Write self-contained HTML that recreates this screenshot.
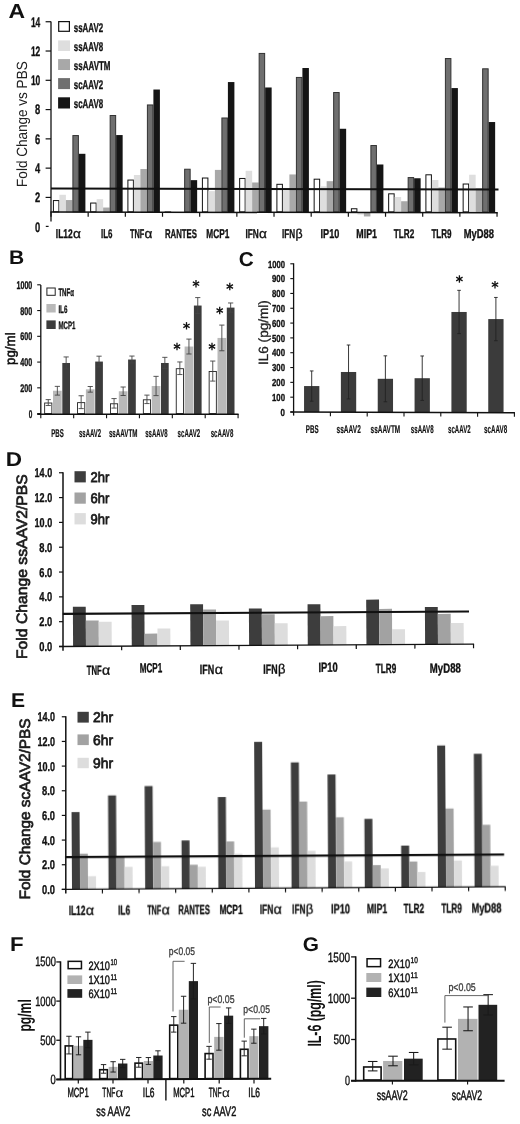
<!DOCTYPE html>
<html><head><meta charset="utf-8"><title>Figure</title>
<style>
html,body{margin:0;padding:0;background:#fff;}
body{width:520px;height:1124px;overflow:hidden;font-family:"Liberation Sans",sans-serif;}
svg{display:block;font-family:"Liberation Sans",sans-serif;text-rendering:geometricPrecision;}
</style></head><body>
<svg width="520" height="1124" viewBox="0 0 520 1124">
<defs><filter id="soft" x="0" y="0" width="100%" height="100%" color-interpolation-filters="sRGB"><feGaussianBlur stdDeviation="0.22"/></filter></defs>
<rect x="0" y="0" width="520" height="1124" fill="#ffffff"/>
<g filter="url(#soft)">
<text x="8.50" y="17.60" font-size="20.2" font-weight="bold" text-anchor="start" fill="#111" textLength="16.60" lengthAdjust="spacingAndGlyphs">A</text>
<line x1="51.00" y1="21.54" x2="51.00" y2="221.50" stroke="#111" stroke-width="1.3"/>
<line x1="45.60" y1="197.42" x2="51.00" y2="197.42" stroke="#111" stroke-width="1.2"/>
<line x1="45.60" y1="168.14" x2="51.00" y2="168.14" stroke="#111" stroke-width="1.2"/>
<line x1="45.60" y1="138.86" x2="51.00" y2="138.86" stroke="#111" stroke-width="1.2"/>
<line x1="45.60" y1="109.58" x2="51.00" y2="109.58" stroke="#111" stroke-width="1.2"/>
<line x1="45.60" y1="80.30" x2="51.00" y2="80.30" stroke="#111" stroke-width="1.2"/>
<line x1="45.60" y1="51.02" x2="51.00" y2="51.02" stroke="#111" stroke-width="1.2"/>
<line x1="45.60" y1="21.74" x2="51.00" y2="21.74" stroke="#111" stroke-width="1.2"/>
<line x1="45.80" y1="226.40" x2="48.60" y2="226.40" stroke="#111" stroke-width="1.2"/>
<text x="35.10" y="231.60" font-size="13.8" font-weight="bold" text-anchor="start" fill="#111" textLength="5.20" lengthAdjust="spacingAndGlyphs" stroke="#111" stroke-width="0.35" stroke-linejoin="round">0</text>
<text x="35.10" y="202.32" font-size="13.8" font-weight="bold" text-anchor="start" fill="#111" textLength="5.20" lengthAdjust="spacingAndGlyphs" stroke="#111" stroke-width="0.35" stroke-linejoin="round">2</text>
<text x="35.10" y="173.04" font-size="13.8" font-weight="bold" text-anchor="start" fill="#111" textLength="5.20" lengthAdjust="spacingAndGlyphs" stroke="#111" stroke-width="0.35" stroke-linejoin="round">4</text>
<text x="35.10" y="143.76" font-size="13.8" font-weight="bold" text-anchor="start" fill="#111" textLength="5.20" lengthAdjust="spacingAndGlyphs" stroke="#111" stroke-width="0.35" stroke-linejoin="round">6</text>
<text x="35.10" y="114.48" font-size="13.8" font-weight="bold" text-anchor="start" fill="#111" textLength="5.20" lengthAdjust="spacingAndGlyphs" stroke="#111" stroke-width="0.35" stroke-linejoin="round">8</text>
<text x="30.90" y="85.20" font-size="13.8" font-weight="bold" text-anchor="start" fill="#111" textLength="9.40" lengthAdjust="spacingAndGlyphs" stroke="#111" stroke-width="0.35" stroke-linejoin="round">10</text>
<text x="30.90" y="55.92" font-size="13.8" font-weight="bold" text-anchor="start" fill="#111" textLength="9.40" lengthAdjust="spacingAndGlyphs" stroke="#111" stroke-width="0.35" stroke-linejoin="round">12</text>
<text x="30.90" y="26.64" font-size="13.8" font-weight="bold" text-anchor="start" fill="#111" textLength="9.40" lengthAdjust="spacingAndGlyphs" stroke="#111" stroke-width="0.35" stroke-linejoin="round">14</text>
<text x="0" y="0" font-size="14.8" font-weight="normal" fill="#222" textLength="125.60" lengthAdjust="spacingAndGlyphs" transform="translate(27.40 186.90) rotate(-90)">Fold Change vs PBS</text>
<rect x="53.40" y="200.56" width="5.50" height="11.30" fill="#ffffff" stroke="#111" stroke-width="1.0"/>
<rect x="59.40" y="194.79" width="6.50" height="17.57" fill="#dedede"/>
<rect x="65.90" y="200.06" width="6.50" height="12.30" fill="#a8a8a8"/>
<rect x="72.90" y="135.56" width="5.50" height="76.30" fill="#6f6f6f" stroke="#333" stroke-width="1.0"/>
<rect x="78.90" y="153.80" width="6.50" height="58.56" fill="#151515"/>
<rect x="90.65" y="203.05" width="5.50" height="8.81" fill="#ffffff" stroke="#111" stroke-width="1.0"/>
<rect x="96.65" y="199.18" width="6.50" height="13.18" fill="#dedede"/>
<rect x="103.15" y="207.53" width="6.50" height="4.83" fill="#a8a8a8"/>
<rect x="110.15" y="115.50" width="5.50" height="96.36" fill="#6f6f6f" stroke="#333" stroke-width="1.0"/>
<rect x="116.15" y="135.06" width="6.50" height="77.30" fill="#151515"/>
<rect x="127.90" y="180.07" width="5.50" height="31.79" fill="#ffffff" stroke="#111" stroke-width="1.0"/>
<rect x="133.90" y="175.03" width="6.50" height="37.33" fill="#dedede"/>
<rect x="140.40" y="169.03" width="6.50" height="43.33" fill="#a8a8a8"/>
<rect x="147.40" y="104.96" width="5.50" height="106.90" fill="#6f6f6f" stroke="#333" stroke-width="1.0"/>
<rect x="153.40" y="89.53" width="6.50" height="122.83" fill="#151515"/>
<rect x="165.15" y="211.98" width="5.50" height="0.10" fill="#ffffff" stroke="#111" stroke-width="1.0"/>
<rect x="171.15" y="212.07" width="6.50" height="0.29" fill="#dedede"/>
<rect x="177.65" y="212.36" width="6.50" height="0.44" fill="#a8a8a8"/>
<rect x="184.65" y="169.23" width="5.50" height="42.63" fill="#6f6f6f" stroke="#333" stroke-width="1.0"/>
<rect x="190.65" y="180.15" width="6.50" height="32.21" fill="#151515"/>
<rect x="202.40" y="178.02" width="5.50" height="33.84" fill="#ffffff" stroke="#111" stroke-width="1.0"/>
<rect x="208.40" y="191.13" width="6.50" height="21.23" fill="#dedede"/>
<rect x="214.90" y="169.90" width="6.50" height="42.46" fill="#a8a8a8"/>
<rect x="221.90" y="117.99" width="5.50" height="93.87" fill="#6f6f6f" stroke="#333" stroke-width="1.0"/>
<rect x="227.90" y="82.06" width="6.50" height="130.30" fill="#151515"/>
<rect x="239.65" y="178.46" width="5.50" height="33.40" fill="#ffffff" stroke="#111" stroke-width="1.0"/>
<rect x="245.65" y="170.78" width="6.50" height="41.58" fill="#dedede"/>
<rect x="252.15" y="182.49" width="6.50" height="29.87" fill="#a8a8a8"/>
<rect x="259.15" y="53.43" width="5.50" height="158.43" fill="#6f6f6f" stroke="#333" stroke-width="1.0"/>
<rect x="265.15" y="87.48" width="6.50" height="124.88" fill="#151515"/>
<rect x="276.90" y="184.31" width="5.50" height="27.55" fill="#ffffff" stroke="#111" stroke-width="1.0"/>
<rect x="282.90" y="190.40" width="6.50" height="21.96" fill="#dedede"/>
<rect x="289.40" y="174.44" width="6.50" height="37.92" fill="#a8a8a8"/>
<rect x="296.40" y="77.44" width="5.50" height="134.42" fill="#6f6f6f" stroke="#333" stroke-width="1.0"/>
<rect x="302.40" y="68.01" width="6.50" height="144.35" fill="#151515"/>
<rect x="314.15" y="179.19" width="5.50" height="32.67" fill="#ffffff" stroke="#111" stroke-width="1.0"/>
<rect x="320.15" y="186.30" width="6.50" height="26.06" fill="#dedede"/>
<rect x="326.65" y="181.18" width="6.50" height="31.18" fill="#a8a8a8"/>
<rect x="333.65" y="92.52" width="5.50" height="119.34" fill="#6f6f6f" stroke="#333" stroke-width="1.0"/>
<rect x="339.65" y="128.77" width="6.50" height="83.59" fill="#151515"/>
<rect x="351.40" y="208.76" width="5.50" height="3.10" fill="#ffffff" stroke="#111" stroke-width="1.0"/>
<rect x="357.40" y="212.36" width="6.50" height="2.20" fill="#dedede"/>
<rect x="363.90" y="212.36" width="6.50" height="4.10" fill="#a8a8a8"/>
<rect x="370.90" y="145.52" width="5.50" height="66.34" fill="#6f6f6f" stroke="#333" stroke-width="1.0"/>
<rect x="376.90" y="164.49" width="6.50" height="47.87" fill="#151515"/>
<rect x="388.65" y="193.83" width="5.50" height="18.03" fill="#ffffff" stroke="#111" stroke-width="1.0"/>
<rect x="394.65" y="196.99" width="6.50" height="15.37" fill="#dedede"/>
<rect x="401.15" y="201.23" width="6.50" height="11.13" fill="#a8a8a8"/>
<rect x="408.15" y="177.58" width="5.50" height="34.28" fill="#6f6f6f" stroke="#333" stroke-width="1.0"/>
<rect x="414.15" y="178.25" width="6.50" height="34.11" fill="#151515"/>
<rect x="425.90" y="174.80" width="5.50" height="37.06" fill="#ffffff" stroke="#111" stroke-width="1.0"/>
<rect x="431.90" y="180.01" width="6.50" height="32.35" fill="#dedede"/>
<rect x="438.40" y="187.47" width="6.50" height="24.89" fill="#a8a8a8"/>
<rect x="445.40" y="58.55" width="5.50" height="153.31" fill="#6f6f6f" stroke="#333" stroke-width="1.0"/>
<rect x="451.40" y="88.07" width="6.50" height="124.29" fill="#151515"/>
<rect x="463.15" y="184.02" width="5.50" height="27.84" fill="#ffffff" stroke="#111" stroke-width="1.0"/>
<rect x="469.15" y="174.74" width="6.50" height="37.62" fill="#dedede"/>
<rect x="475.65" y="188.20" width="6.50" height="24.16" fill="#a8a8a8"/>
<rect x="482.65" y="68.80" width="5.50" height="143.06" fill="#6f6f6f" stroke="#333" stroke-width="1.0"/>
<rect x="488.65" y="122.03" width="6.50" height="90.33" fill="#151515"/>
<line x1="50.40" y1="211.96" x2="497.64" y2="212.86" stroke="#111" stroke-width="1.5"/>
<line x1="51.00" y1="212.36" x2="51.00" y2="216.76" stroke="#111" stroke-width="1.2"/>
<line x1="88.17" y1="212.36" x2="88.17" y2="216.76" stroke="#111" stroke-width="1.2"/>
<line x1="125.34" y1="212.36" x2="125.34" y2="216.76" stroke="#111" stroke-width="1.2"/>
<line x1="162.51" y1="212.36" x2="162.51" y2="216.76" stroke="#111" stroke-width="1.2"/>
<line x1="199.68" y1="212.36" x2="199.68" y2="216.76" stroke="#111" stroke-width="1.2"/>
<line x1="236.85" y1="212.36" x2="236.85" y2="216.76" stroke="#111" stroke-width="1.2"/>
<line x1="274.02" y1="212.36" x2="274.02" y2="216.76" stroke="#111" stroke-width="1.2"/>
<line x1="311.19" y1="212.36" x2="311.19" y2="216.76" stroke="#111" stroke-width="1.2"/>
<line x1="348.36" y1="212.36" x2="348.36" y2="216.76" stroke="#111" stroke-width="1.2"/>
<line x1="385.53" y1="212.36" x2="385.53" y2="216.76" stroke="#111" stroke-width="1.2"/>
<line x1="422.70" y1="212.36" x2="422.70" y2="216.76" stroke="#111" stroke-width="1.2"/>
<line x1="459.87" y1="212.36" x2="459.87" y2="216.76" stroke="#111" stroke-width="1.2"/>
<line x1="497.04" y1="212.36" x2="497.04" y2="216.76" stroke="#111" stroke-width="1.2"/>
<line x1="51.00" y1="188.50" x2="498.50" y2="189.50" stroke="#111" stroke-width="2.1"/>
<text x="55.80" y="237.90" font-size="12.7" font-weight="bold" text-anchor="start" fill="#111" textLength="16.83" lengthAdjust="spacingAndGlyphs" stroke="#111" stroke-width="0.35" stroke-linejoin="round">IL12</text>
<text x="72.93" y="237.90" font-size="12.953999999999999" font-weight="normal" text-anchor="start" fill="#111" textLength="7.87" lengthAdjust="spacingAndGlyphs" stroke="#111" stroke-width="0.35" stroke-linejoin="round">α</text>
<text x="101.00" y="237.90" font-size="12.7" font-weight="bold" text-anchor="start" fill="#111" textLength="11.50" lengthAdjust="spacingAndGlyphs" stroke="#111" stroke-width="0.35" stroke-linejoin="round">IL6</text>
<text x="130.00" y="237.90" font-size="12.7" font-weight="bold" text-anchor="start" fill="#111" textLength="14.33" lengthAdjust="spacingAndGlyphs" stroke="#111" stroke-width="0.35" stroke-linejoin="round">TNF</text>
<text x="144.63" y="237.90" font-size="12.953999999999999" font-weight="normal" text-anchor="start" fill="#111" textLength="7.87" lengthAdjust="spacingAndGlyphs" stroke="#111" stroke-width="0.35" stroke-linejoin="round">α</text>
<text x="165.00" y="237.90" font-size="12.7" font-weight="bold" text-anchor="start" fill="#111" textLength="32.00" lengthAdjust="spacingAndGlyphs" stroke="#111" stroke-width="0.35" stroke-linejoin="round">RANTES</text>
<text x="206.30" y="237.90" font-size="12.7" font-weight="bold" text-anchor="start" fill="#111" textLength="23.00" lengthAdjust="spacingAndGlyphs" stroke="#111" stroke-width="0.35" stroke-linejoin="round">MCP1</text>
<text x="245.50" y="237.90" font-size="12.7" font-weight="bold" text-anchor="start" fill="#111" textLength="13.33" lengthAdjust="spacingAndGlyphs" stroke="#111" stroke-width="0.35" stroke-linejoin="round">IFN</text>
<text x="259.13" y="237.90" font-size="12.953999999999999" font-weight="normal" text-anchor="start" fill="#111" textLength="7.87" lengthAdjust="spacingAndGlyphs" stroke="#111" stroke-width="0.35" stroke-linejoin="round">α</text>
<text x="282.00" y="237.90" font-size="12.7" font-weight="bold" text-anchor="start" fill="#111" textLength="13.09" lengthAdjust="spacingAndGlyphs" stroke="#111" stroke-width="0.35" stroke-linejoin="round">IFN</text>
<text x="295.39" y="237.90" font-size="12.953999999999999" font-weight="normal" text-anchor="start" fill="#111" textLength="7.11" lengthAdjust="spacingAndGlyphs" stroke="#111" stroke-width="0.35" stroke-linejoin="round">β</text>
<text x="320.50" y="237.90" font-size="12.7" font-weight="bold" text-anchor="start" fill="#111" textLength="18.80" lengthAdjust="spacingAndGlyphs" stroke="#111" stroke-width="0.35" stroke-linejoin="round">IP10</text>
<text x="356.30" y="237.90" font-size="12.7" font-weight="bold" text-anchor="start" fill="#111" textLength="20.70" lengthAdjust="spacingAndGlyphs" stroke="#111" stroke-width="0.35" stroke-linejoin="round">MIP1</text>
<text x="393.80" y="237.90" font-size="12.7" font-weight="bold" text-anchor="start" fill="#111" textLength="20.50" lengthAdjust="spacingAndGlyphs" stroke="#111" stroke-width="0.35" stroke-linejoin="round">TLR2</text>
<text x="431.40" y="237.90" font-size="12.7" font-weight="bold" text-anchor="start" fill="#111" textLength="20.20" lengthAdjust="spacingAndGlyphs" stroke="#111" stroke-width="0.35" stroke-linejoin="round">TLR9</text>
<text x="463.80" y="237.90" font-size="12.7" font-weight="bold" text-anchor="start" fill="#111" textLength="30.20" lengthAdjust="spacingAndGlyphs" stroke="#111" stroke-width="0.35" stroke-linejoin="round">MyD88</text>
<rect x="58.70" y="21.60" width="10.70" height="9.70" fill="#ffffff" stroke="#111" stroke-width="1.2"/>
<rect x="58.10" y="40.40" width="11.90" height="10.60" fill="#dedede"/>
<rect x="58.10" y="59.10" width="11.90" height="10.90" fill="#a8a8a8"/>
<rect x="58.10" y="78.10" width="11.90" height="11.00" fill="#6f6f6f"/>
<rect x="58.10" y="97.30" width="11.90" height="11.20" fill="#151515"/>
<text x="73.80" y="31.70" font-size="12.7" font-weight="bold" text-anchor="start" fill="#111" textLength="29.40" lengthAdjust="spacingAndGlyphs" stroke="#111" stroke-width="0.35" stroke-linejoin="round">ssAAV2</text>
<text x="73.80" y="50.80" font-size="12.7" font-weight="bold" text-anchor="start" fill="#111" textLength="29.40" lengthAdjust="spacingAndGlyphs" stroke="#111" stroke-width="0.35" stroke-linejoin="round">ssAAV8</text>
<text x="73.80" y="69.80" font-size="12.7" font-weight="bold" text-anchor="start" fill="#111" textLength="36.70" lengthAdjust="spacingAndGlyphs" stroke="#111" stroke-width="0.35" stroke-linejoin="round">ssAAVTM</text>
<text x="73.80" y="88.90" font-size="12.7" font-weight="bold" text-anchor="start" fill="#111" textLength="29.40" lengthAdjust="spacingAndGlyphs" stroke="#111" stroke-width="0.35" stroke-linejoin="round">scAAV2</text>
<text x="73.80" y="108.30" font-size="12.7" font-weight="bold" text-anchor="start" fill="#111" textLength="29.40" lengthAdjust="spacingAndGlyphs" stroke="#111" stroke-width="0.35" stroke-linejoin="round">scAAV8</text>
<text x="9.00" y="264.00" font-size="19.8" font-weight="bold" text-anchor="start" fill="#111" textLength="15.20" lengthAdjust="spacingAndGlyphs">B</text>
<line x1="40.80" y1="285.00" x2="40.80" y2="414.60" stroke="#111" stroke-width="1.3"/>
<line x1="37.20" y1="413.60" x2="40.80" y2="413.60" stroke="#111" stroke-width="1.1"/>
<text x="28.70" y="417.60" font-size="11.2" font-weight="bold" text-anchor="start" fill="#111" textLength="3.60" lengthAdjust="spacingAndGlyphs" stroke="#111" stroke-width="0.35" stroke-linejoin="round">0</text>
<line x1="37.20" y1="387.84" x2="40.80" y2="387.84" stroke="#111" stroke-width="1.1"/>
<text x="20.30" y="391.84" font-size="11.2" font-weight="bold" text-anchor="start" fill="#111" textLength="12.00" lengthAdjust="spacingAndGlyphs" stroke="#111" stroke-width="0.35" stroke-linejoin="round">200</text>
<line x1="37.20" y1="362.08" x2="40.80" y2="362.08" stroke="#111" stroke-width="1.1"/>
<text x="20.30" y="366.08" font-size="11.2" font-weight="bold" text-anchor="start" fill="#111" textLength="12.00" lengthAdjust="spacingAndGlyphs" stroke="#111" stroke-width="0.35" stroke-linejoin="round">400</text>
<line x1="37.20" y1="336.32" x2="40.80" y2="336.32" stroke="#111" stroke-width="1.1"/>
<text x="20.30" y="340.32" font-size="11.2" font-weight="bold" text-anchor="start" fill="#111" textLength="12.00" lengthAdjust="spacingAndGlyphs" stroke="#111" stroke-width="0.35" stroke-linejoin="round">600</text>
<line x1="37.20" y1="310.56" x2="40.80" y2="310.56" stroke="#111" stroke-width="1.1"/>
<text x="20.30" y="314.56" font-size="11.2" font-weight="bold" text-anchor="start" fill="#111" textLength="12.00" lengthAdjust="spacingAndGlyphs" stroke="#111" stroke-width="0.35" stroke-linejoin="round">800</text>
<line x1="37.20" y1="284.80" x2="40.80" y2="284.80" stroke="#111" stroke-width="1.1"/>
<text x="16.50" y="288.80" font-size="11.2" font-weight="bold" text-anchor="start" fill="#111" textLength="15.80" lengthAdjust="spacingAndGlyphs" stroke="#111" stroke-width="0.35" stroke-linejoin="round">1000</text>
<text x="0" y="0" font-size="13.6" font-weight="normal" fill="#111" stroke="#111" stroke-width="0.55" textLength="32.60" lengthAdjust="spacingAndGlyphs" transform="translate(15.30 365.00) rotate(-90)">pg/ml</text>
<rect x="44.65" y="403.01" width="7.20" height="10.54" fill="#ffffff" stroke="#222" stroke-width="0.9"/>
<line x1="48.25" y1="399.61" x2="48.25" y2="405.52" stroke="#444" stroke-width="0.9"/>
<line x1="45.65" y1="399.61" x2="50.85" y2="399.61" stroke="#444" stroke-width="0.9"/>
<line x1="45.65" y1="405.52" x2="50.85" y2="405.52" stroke="#444" stroke-width="0.9"/>
<rect x="53.00" y="390.74" width="8.70" height="23.26" fill="#b9b9b9"/>
<line x1="57.35" y1="386.37" x2="57.35" y2="395.11" stroke="#444" stroke-width="0.9"/>
<line x1="54.75" y1="386.37" x2="59.95" y2="386.37" stroke="#444" stroke-width="0.9"/>
<line x1="54.75" y1="395.11" x2="59.95" y2="395.11" stroke="#444" stroke-width="0.9"/>
<rect x="62.30" y="362.99" width="7.70" height="51.01" fill="#3c3c3c"/>
<line x1="66.15" y1="356.95" x2="66.15" y2="369.02" stroke="#444" stroke-width="0.9"/>
<line x1="63.55" y1="356.95" x2="68.75" y2="356.95" stroke="#444" stroke-width="0.9"/>
<line x1="63.55" y1="369.02" x2="68.75" y2="369.02" stroke="#444" stroke-width="0.9"/>
<rect x="77.55" y="402.63" width="7.20" height="10.92" fill="#ffffff" stroke="#222" stroke-width="0.9"/>
<line x1="81.15" y1="395.75" x2="81.15" y2="408.60" stroke="#444" stroke-width="0.9"/>
<line x1="78.55" y1="395.75" x2="83.75" y2="395.75" stroke="#444" stroke-width="0.9"/>
<line x1="78.55" y1="408.60" x2="83.75" y2="408.60" stroke="#444" stroke-width="0.9"/>
<rect x="85.90" y="389.33" width="8.70" height="24.67" fill="#b9b9b9"/>
<line x1="90.25" y1="386.50" x2="90.25" y2="392.15" stroke="#444" stroke-width="0.9"/>
<line x1="87.65" y1="386.50" x2="92.85" y2="386.50" stroke="#444" stroke-width="0.9"/>
<line x1="87.65" y1="392.15" x2="92.85" y2="392.15" stroke="#444" stroke-width="0.9"/>
<rect x="95.20" y="361.57" width="7.70" height="52.43" fill="#3c3c3c"/>
<line x1="99.05" y1="356.18" x2="99.05" y2="366.97" stroke="#444" stroke-width="0.9"/>
<line x1="96.45" y1="356.18" x2="101.65" y2="356.18" stroke="#444" stroke-width="0.9"/>
<line x1="96.45" y1="366.97" x2="101.65" y2="366.97" stroke="#444" stroke-width="0.9"/>
<rect x="110.45" y="403.78" width="7.20" height="9.77" fill="#ffffff" stroke="#222" stroke-width="0.9"/>
<line x1="114.05" y1="398.58" x2="114.05" y2="408.09" stroke="#444" stroke-width="0.9"/>
<line x1="111.45" y1="398.58" x2="116.65" y2="398.58" stroke="#444" stroke-width="0.9"/>
<line x1="111.45" y1="408.09" x2="116.65" y2="408.09" stroke="#444" stroke-width="0.9"/>
<rect x="118.80" y="391.26" width="8.70" height="22.74" fill="#b9b9b9"/>
<line x1="123.15" y1="387.01" x2="123.15" y2="395.50" stroke="#444" stroke-width="0.9"/>
<line x1="120.55" y1="387.01" x2="125.75" y2="387.01" stroke="#444" stroke-width="0.9"/>
<line x1="120.55" y1="395.50" x2="125.75" y2="395.50" stroke="#444" stroke-width="0.9"/>
<rect x="128.10" y="359.52" width="7.70" height="54.48" fill="#3c3c3c"/>
<line x1="131.95" y1="356.05" x2="131.95" y2="362.99" stroke="#444" stroke-width="0.9"/>
<line x1="129.35" y1="356.05" x2="134.55" y2="356.05" stroke="#444" stroke-width="0.9"/>
<line x1="129.35" y1="362.99" x2="134.55" y2="362.99" stroke="#444" stroke-width="0.9"/>
<rect x="143.35" y="399.80" width="7.20" height="13.75" fill="#ffffff" stroke="#222" stroke-width="0.9"/>
<line x1="146.95" y1="395.11" x2="146.95" y2="403.59" stroke="#444" stroke-width="0.9"/>
<line x1="144.35" y1="395.11" x2="149.55" y2="395.11" stroke="#444" stroke-width="0.9"/>
<line x1="144.35" y1="403.59" x2="149.55" y2="403.59" stroke="#444" stroke-width="0.9"/>
<rect x="151.70" y="385.99" width="8.70" height="28.01" fill="#b9b9b9"/>
<line x1="156.05" y1="376.35" x2="156.05" y2="395.62" stroke="#444" stroke-width="0.9"/>
<line x1="153.45" y1="376.35" x2="158.65" y2="376.35" stroke="#444" stroke-width="0.9"/>
<line x1="153.45" y1="395.62" x2="158.65" y2="395.62" stroke="#444" stroke-width="0.9"/>
<rect x="161.00" y="362.99" width="7.70" height="51.01" fill="#3c3c3c"/>
<line x1="164.85" y1="357.33" x2="164.85" y2="368.64" stroke="#444" stroke-width="0.9"/>
<line x1="162.25" y1="357.33" x2="167.45" y2="357.33" stroke="#444" stroke-width="0.9"/>
<line x1="162.25" y1="368.64" x2="167.45" y2="368.64" stroke="#444" stroke-width="0.9"/>
<rect x="176.25" y="368.70" width="7.20" height="44.85" fill="#ffffff" stroke="#222" stroke-width="0.9"/>
<line x1="179.85" y1="361.96" x2="179.85" y2="374.55" stroke="#444" stroke-width="0.9"/>
<line x1="177.25" y1="361.96" x2="182.45" y2="361.96" stroke="#444" stroke-width="0.9"/>
<line x1="177.25" y1="374.55" x2="182.45" y2="374.55" stroke="#444" stroke-width="0.9"/>
<rect x="184.60" y="346.54" width="8.70" height="67.46" fill="#b9b9b9"/>
<line x1="188.95" y1="339.08" x2="188.95" y2="353.99" stroke="#444" stroke-width="0.9"/>
<line x1="186.35" y1="339.08" x2="191.55" y2="339.08" stroke="#444" stroke-width="0.9"/>
<line x1="186.35" y1="353.99" x2="191.55" y2="353.99" stroke="#444" stroke-width="0.9"/>
<rect x="193.90" y="305.55" width="7.70" height="108.45" fill="#3c3c3c"/>
<line x1="197.75" y1="297.58" x2="197.75" y2="313.51" stroke="#444" stroke-width="0.9"/>
<line x1="195.15" y1="297.58" x2="200.35" y2="297.58" stroke="#444" stroke-width="0.9"/>
<line x1="195.15" y1="313.51" x2="200.35" y2="313.51" stroke="#444" stroke-width="0.9"/>
<rect x="209.15" y="371.53" width="7.20" height="42.02" fill="#ffffff" stroke="#222" stroke-width="0.9"/>
<line x1="212.75" y1="361.06" x2="212.75" y2="381.10" stroke="#444" stroke-width="0.9"/>
<line x1="210.15" y1="361.06" x2="215.35" y2="361.06" stroke="#444" stroke-width="0.9"/>
<line x1="210.15" y1="381.10" x2="215.35" y2="381.10" stroke="#444" stroke-width="0.9"/>
<rect x="217.50" y="337.93" width="8.70" height="76.07" fill="#b9b9b9"/>
<line x1="221.85" y1="325.08" x2="221.85" y2="350.78" stroke="#444" stroke-width="0.9"/>
<line x1="219.25" y1="325.08" x2="224.45" y2="325.08" stroke="#444" stroke-width="0.9"/>
<line x1="219.25" y1="350.78" x2="224.45" y2="350.78" stroke="#444" stroke-width="0.9"/>
<rect x="226.80" y="307.60" width="7.70" height="106.40" fill="#3c3c3c"/>
<line x1="230.65" y1="302.98" x2="230.65" y2="312.23" stroke="#444" stroke-width="0.9"/>
<line x1="228.05" y1="302.98" x2="233.25" y2="302.98" stroke="#444" stroke-width="0.9"/>
<line x1="228.05" y1="312.23" x2="233.25" y2="312.23" stroke="#444" stroke-width="0.9"/>
<line x1="37.20" y1="414.20" x2="238.58" y2="414.20" stroke="#111" stroke-width="1.4"/>
<line x1="40.80" y1="414.00" x2="40.80" y2="418.20" stroke="#111" stroke-width="1.1"/>
<line x1="73.68" y1="414.00" x2="73.68" y2="418.20" stroke="#111" stroke-width="1.1"/>
<line x1="106.56" y1="414.00" x2="106.56" y2="418.20" stroke="#111" stroke-width="1.1"/>
<line x1="139.44" y1="414.00" x2="139.44" y2="418.20" stroke="#111" stroke-width="1.1"/>
<line x1="172.32" y1="414.00" x2="172.32" y2="418.20" stroke="#111" stroke-width="1.1"/>
<line x1="205.20" y1="414.00" x2="205.20" y2="418.20" stroke="#111" stroke-width="1.1"/>
<line x1="238.08" y1="414.00" x2="238.08" y2="418.20" stroke="#111" stroke-width="1.1"/>
<text x="51.30" y="436.90" font-size="11.3" font-weight="bold" text-anchor="start" fill="#111" textLength="12.50" lengthAdjust="spacingAndGlyphs" stroke="#111" stroke-width="0.2" stroke-linejoin="round">PBS</text>
<text x="79.00" y="436.90" font-size="11.3" font-weight="bold" text-anchor="start" fill="#111" textLength="22.20" lengthAdjust="spacingAndGlyphs" stroke="#111" stroke-width="0.2" stroke-linejoin="round">ssAAV2</text>
<text x="108.90" y="436.90" font-size="11.3" font-weight="bold" text-anchor="start" fill="#111" textLength="28.60" lengthAdjust="spacingAndGlyphs" stroke="#111" stroke-width="0.2" stroke-linejoin="round">ssAAVTM</text>
<text x="145.20" y="436.90" font-size="11.3" font-weight="bold" text-anchor="start" fill="#111" textLength="22.30" lengthAdjust="spacingAndGlyphs" stroke="#111" stroke-width="0.2" stroke-linejoin="round">ssAAV8</text>
<text x="177.60" y="436.90" font-size="11.3" font-weight="bold" text-anchor="start" fill="#111" textLength="22.60" lengthAdjust="spacingAndGlyphs" stroke="#111" stroke-width="0.2" stroke-linejoin="round">scAAV2</text>
<text x="210.70" y="436.90" font-size="11.3" font-weight="bold" text-anchor="start" fill="#111" textLength="22.60" lengthAdjust="spacingAndGlyphs" stroke="#111" stroke-width="0.2" stroke-linejoin="round">scAAV8</text>
<line x1="177.00" y1="342.80" x2="177.00" y2="350.20" stroke="#111" stroke-width="1.3"/>
<line x1="180.20" y1="344.65" x2="173.80" y2="348.35" stroke="#111" stroke-width="1.3"/>
<line x1="180.20" y1="348.35" x2="173.80" y2="344.65" stroke="#111" stroke-width="1.3"/>
<line x1="186.50" y1="322.10" x2="186.50" y2="329.50" stroke="#111" stroke-width="1.3"/>
<line x1="189.70" y1="323.95" x2="183.30" y2="327.65" stroke="#111" stroke-width="1.3"/>
<line x1="189.70" y1="327.65" x2="183.30" y2="323.95" stroke="#111" stroke-width="1.3"/>
<line x1="196.00" y1="280.00" x2="196.00" y2="287.40" stroke="#111" stroke-width="1.3"/>
<line x1="199.20" y1="281.85" x2="192.80" y2="285.55" stroke="#111" stroke-width="1.3"/>
<line x1="199.20" y1="285.55" x2="192.80" y2="281.85" stroke="#111" stroke-width="1.3"/>
<line x1="212.00" y1="342.80" x2="212.00" y2="350.20" stroke="#111" stroke-width="1.3"/>
<line x1="215.20" y1="344.65" x2="208.80" y2="348.35" stroke="#111" stroke-width="1.3"/>
<line x1="215.20" y1="348.35" x2="208.80" y2="344.65" stroke="#111" stroke-width="1.3"/>
<line x1="219.70" y1="306.80" x2="219.70" y2="314.20" stroke="#111" stroke-width="1.3"/>
<line x1="222.90" y1="308.65" x2="216.50" y2="312.35" stroke="#111" stroke-width="1.3"/>
<line x1="222.90" y1="312.35" x2="216.50" y2="308.65" stroke="#111" stroke-width="1.3"/>
<line x1="229.80" y1="282.80" x2="229.80" y2="290.20" stroke="#111" stroke-width="1.3"/>
<line x1="233.00" y1="284.65" x2="226.60" y2="288.35" stroke="#111" stroke-width="1.3"/>
<line x1="233.00" y1="288.35" x2="226.60" y2="284.65" stroke="#111" stroke-width="1.3"/>
<rect x="46.90" y="288.00" width="8.30" height="7.30" fill="#ffffff" stroke="#222" stroke-width="1.0"/>
<text x="58.40" y="295.80" font-size="10.9" font-weight="bold" text-anchor="start" fill="#111" textLength="15.50" lengthAdjust="spacingAndGlyphs" stroke="#111" stroke-width="0.35" stroke-linejoin="round">TNFα</text>
<rect x="46.40" y="304.00" width="9.30" height="8.50" fill="#b9b9b9"/>
<text x="58.40" y="312.50" font-size="10.9" font-weight="bold" text-anchor="start" fill="#111" textLength="9.00" lengthAdjust="spacingAndGlyphs" stroke="#111" stroke-width="0.35" stroke-linejoin="round">IL6</text>
<rect x="46.40" y="320.40" width="9.30" height="8.60" fill="#3c3c3c"/>
<text x="58.40" y="329.00" font-size="10.9" font-weight="bold" text-anchor="start" fill="#111" textLength="17.00" lengthAdjust="spacingAndGlyphs" stroke="#111" stroke-width="0.35" stroke-linejoin="round">MCP1</text>
<text x="238.70" y="265.70" font-size="20.0" font-weight="bold" text-anchor="start" fill="#111" textLength="15.00" lengthAdjust="spacingAndGlyphs">C</text>
<line x1="293.60" y1="263.30" x2="293.60" y2="415.60" stroke="#111" stroke-width="1.3"/>
<line x1="290.30" y1="412.00" x2="293.60" y2="412.00" stroke="#111" stroke-width="1.1"/>
<text x="280.60" y="415.70" font-size="10.2" font-weight="bold" text-anchor="start" fill="#111" textLength="4.40" lengthAdjust="spacingAndGlyphs" stroke="#111" stroke-width="0.35" stroke-linejoin="round">0</text>
<line x1="290.30" y1="397.18" x2="293.60" y2="397.18" stroke="#111" stroke-width="1.1"/>
<text x="272.00" y="400.88" font-size="10.2" font-weight="bold" text-anchor="start" fill="#111" textLength="13.00" lengthAdjust="spacingAndGlyphs" stroke="#111" stroke-width="0.35" stroke-linejoin="round">100</text>
<line x1="290.30" y1="382.36" x2="293.60" y2="382.36" stroke="#111" stroke-width="1.1"/>
<text x="272.00" y="386.06" font-size="10.2" font-weight="bold" text-anchor="start" fill="#111" textLength="13.00" lengthAdjust="spacingAndGlyphs" stroke="#111" stroke-width="0.35" stroke-linejoin="round">200</text>
<line x1="290.30" y1="367.54" x2="293.60" y2="367.54" stroke="#111" stroke-width="1.1"/>
<text x="272.00" y="371.24" font-size="10.2" font-weight="bold" text-anchor="start" fill="#111" textLength="13.00" lengthAdjust="spacingAndGlyphs" stroke="#111" stroke-width="0.35" stroke-linejoin="round">300</text>
<line x1="290.30" y1="352.72" x2="293.60" y2="352.72" stroke="#111" stroke-width="1.1"/>
<text x="272.00" y="356.42" font-size="10.2" font-weight="bold" text-anchor="start" fill="#111" textLength="13.00" lengthAdjust="spacingAndGlyphs" stroke="#111" stroke-width="0.35" stroke-linejoin="round">400</text>
<line x1="290.30" y1="337.90" x2="293.60" y2="337.90" stroke="#111" stroke-width="1.1"/>
<text x="272.00" y="341.60" font-size="10.2" font-weight="bold" text-anchor="start" fill="#111" textLength="13.00" lengthAdjust="spacingAndGlyphs" stroke="#111" stroke-width="0.35" stroke-linejoin="round">500</text>
<line x1="290.30" y1="323.08" x2="293.60" y2="323.08" stroke="#111" stroke-width="1.1"/>
<text x="272.00" y="326.78" font-size="10.2" font-weight="bold" text-anchor="start" fill="#111" textLength="13.00" lengthAdjust="spacingAndGlyphs" stroke="#111" stroke-width="0.35" stroke-linejoin="round">600</text>
<line x1="290.30" y1="308.26" x2="293.60" y2="308.26" stroke="#111" stroke-width="1.1"/>
<text x="272.00" y="311.96" font-size="10.2" font-weight="bold" text-anchor="start" fill="#111" textLength="13.00" lengthAdjust="spacingAndGlyphs" stroke="#111" stroke-width="0.35" stroke-linejoin="round">700</text>
<line x1="290.30" y1="293.44" x2="293.60" y2="293.44" stroke="#111" stroke-width="1.1"/>
<text x="272.00" y="297.14" font-size="10.2" font-weight="bold" text-anchor="start" fill="#111" textLength="13.00" lengthAdjust="spacingAndGlyphs" stroke="#111" stroke-width="0.35" stroke-linejoin="round">800</text>
<line x1="290.30" y1="278.62" x2="293.60" y2="278.62" stroke="#111" stroke-width="1.1"/>
<text x="272.00" y="282.32" font-size="10.2" font-weight="bold" text-anchor="start" fill="#111" textLength="13.00" lengthAdjust="spacingAndGlyphs" stroke="#111" stroke-width="0.35" stroke-linejoin="round">900</text>
<line x1="290.30" y1="263.80" x2="293.60" y2="263.80" stroke="#111" stroke-width="1.1"/>
<text x="268.00" y="267.50" font-size="10.2" font-weight="bold" text-anchor="start" fill="#111" textLength="17.00" lengthAdjust="spacingAndGlyphs" stroke="#111" stroke-width="0.35" stroke-linejoin="round">1000</text>
<text x="0" y="0" font-size="13.4" font-weight="normal" fill="#222" stroke="#222" stroke-width="0.3" textLength="64.80" lengthAdjust="spacingAndGlyphs" transform="translate(267.90 365.00) rotate(-90)">IL6 (pg/ml)</text>
<rect x="304.05" y="386.06" width="15.30" height="25.94" fill="#3b3b3b"/>
<line x1="311.70" y1="370.95" x2="311.70" y2="401.18" stroke="#222" stroke-width="0.9"/>
<line x1="309.90" y1="370.95" x2="313.50" y2="370.95" stroke="#222" stroke-width="0.9"/>
<line x1="309.90" y1="401.18" x2="313.50" y2="401.18" stroke="#222" stroke-width="0.9"/>
<rect x="340.89" y="371.99" width="15.30" height="40.01" fill="#3b3b3b"/>
<line x1="348.54" y1="345.01" x2="348.54" y2="398.96" stroke="#222" stroke-width="0.9"/>
<line x1="346.74" y1="345.01" x2="350.34" y2="345.01" stroke="#222" stroke-width="0.9"/>
<line x1="346.74" y1="398.96" x2="350.34" y2="398.96" stroke="#222" stroke-width="0.9"/>
<rect x="377.73" y="378.80" width="15.30" height="33.20" fill="#3b3b3b"/>
<line x1="385.38" y1="355.83" x2="385.38" y2="401.77" stroke="#222" stroke-width="0.9"/>
<line x1="383.58" y1="355.83" x2="387.18" y2="355.83" stroke="#222" stroke-width="0.9"/>
<line x1="383.58" y1="401.77" x2="387.18" y2="401.77" stroke="#222" stroke-width="0.9"/>
<rect x="414.57" y="378.21" width="15.30" height="33.79" fill="#3b3b3b"/>
<line x1="422.22" y1="355.98" x2="422.22" y2="400.44" stroke="#222" stroke-width="0.9"/>
<line x1="420.42" y1="355.98" x2="424.02" y2="355.98" stroke="#222" stroke-width="0.9"/>
<line x1="420.42" y1="400.44" x2="424.02" y2="400.44" stroke="#222" stroke-width="0.9"/>
<rect x="451.41" y="311.97" width="15.30" height="100.03" fill="#3b3b3b"/>
<line x1="459.06" y1="290.33" x2="459.06" y2="333.60" stroke="#222" stroke-width="0.9"/>
<line x1="457.26" y1="290.33" x2="460.86" y2="290.33" stroke="#222" stroke-width="0.9"/>
<line x1="457.26" y1="333.60" x2="460.86" y2="333.60" stroke="#222" stroke-width="0.9"/>
<rect x="488.25" y="319.08" width="15.30" height="92.92" fill="#3b3b3b"/>
<line x1="495.90" y1="297.44" x2="495.90" y2="340.72" stroke="#222" stroke-width="0.9"/>
<line x1="494.10" y1="297.44" x2="497.70" y2="297.44" stroke="#222" stroke-width="0.9"/>
<line x1="494.10" y1="340.72" x2="497.70" y2="340.72" stroke="#222" stroke-width="0.9"/>
<line x1="290.30" y1="412.00" x2="514.90" y2="412.70" stroke="#111" stroke-width="1.4"/>
<line x1="330.40" y1="412.10" x2="330.40" y2="416.30" stroke="#111" stroke-width="1.1"/>
<line x1="367.20" y1="412.20" x2="367.20" y2="416.40" stroke="#111" stroke-width="1.1"/>
<line x1="404.00" y1="412.30" x2="404.00" y2="416.50" stroke="#111" stroke-width="1.1"/>
<line x1="440.80" y1="412.40" x2="440.80" y2="416.60" stroke="#111" stroke-width="1.1"/>
<line x1="477.60" y1="412.50" x2="477.60" y2="416.70" stroke="#111" stroke-width="1.1"/>
<line x1="514.40" y1="412.60" x2="514.40" y2="416.80" stroke="#111" stroke-width="1.1"/>
<text x="305.80" y="433.00" font-size="11.3" font-weight="bold" text-anchor="start" fill="#111" textLength="12.80" lengthAdjust="spacingAndGlyphs" stroke="#111" stroke-width="0.2" stroke-linejoin="round">PBS</text>
<text x="336.60" y="433.00" font-size="11.3" font-weight="bold" text-anchor="start" fill="#111" textLength="24.20" lengthAdjust="spacingAndGlyphs" stroke="#111" stroke-width="0.2" stroke-linejoin="round">ssAAV2</text>
<text x="370.60" y="433.00" font-size="11.3" font-weight="bold" text-anchor="start" fill="#111" textLength="29.60" lengthAdjust="spacingAndGlyphs" stroke="#111" stroke-width="0.2" stroke-linejoin="round">ssAAVTM</text>
<text x="410.80" y="433.00" font-size="11.3" font-weight="bold" text-anchor="start" fill="#111" textLength="22.80" lengthAdjust="spacingAndGlyphs" stroke="#111" stroke-width="0.2" stroke-linejoin="round">ssAAV8</text>
<text x="448.10" y="433.00" font-size="11.3" font-weight="bold" text-anchor="start" fill="#111" textLength="22.50" lengthAdjust="spacingAndGlyphs" stroke="#111" stroke-width="0.2" stroke-linejoin="round">scAAV2</text>
<text x="484.10" y="433.00" font-size="11.3" font-weight="bold" text-anchor="start" fill="#111" textLength="23.10" lengthAdjust="spacingAndGlyphs" stroke="#111" stroke-width="0.2" stroke-linejoin="round">scAAV8</text>
<line x1="459.40" y1="275.30" x2="459.40" y2="282.70" stroke="#111" stroke-width="1.3"/>
<line x1="462.60" y1="277.15" x2="456.20" y2="280.85" stroke="#111" stroke-width="1.3"/>
<line x1="462.60" y1="280.85" x2="456.20" y2="277.15" stroke="#111" stroke-width="1.3"/>
<line x1="495.00" y1="281.00" x2="495.00" y2="288.40" stroke="#111" stroke-width="1.3"/>
<line x1="498.20" y1="282.85" x2="491.80" y2="286.55" stroke="#111" stroke-width="1.3"/>
<line x1="498.20" y1="286.55" x2="491.80" y2="282.85" stroke="#111" stroke-width="1.3"/>
<text x="5.80" y="465.70" font-size="19.9" font-weight="bold" text-anchor="start" fill="#111" textLength="16.30" lengthAdjust="spacingAndGlyphs">D</text>
<line x1="63.00" y1="472.26" x2="63.00" y2="650.70" stroke="#111" stroke-width="1.5"/>
<line x1="59.00" y1="646.50" x2="63.00" y2="646.50" stroke="#111" stroke-width="1.2"/>
<text x="39.20" y="651.10" font-size="12.8" font-weight="bold" text-anchor="start" fill="#111" textLength="13.00" lengthAdjust="spacingAndGlyphs" stroke="#111" stroke-width="0.35" stroke-linejoin="round">0.0</text>
<line x1="59.00" y1="621.68" x2="63.00" y2="621.68" stroke="#111" stroke-width="1.2"/>
<text x="39.20" y="626.28" font-size="12.8" font-weight="bold" text-anchor="start" fill="#111" textLength="13.00" lengthAdjust="spacingAndGlyphs" stroke="#111" stroke-width="0.35" stroke-linejoin="round">2.0</text>
<line x1="59.00" y1="596.86" x2="63.00" y2="596.86" stroke="#111" stroke-width="1.2"/>
<text x="39.20" y="601.46" font-size="12.8" font-weight="bold" text-anchor="start" fill="#111" textLength="13.00" lengthAdjust="spacingAndGlyphs" stroke="#111" stroke-width="0.35" stroke-linejoin="round">4.0</text>
<line x1="59.00" y1="572.04" x2="63.00" y2="572.04" stroke="#111" stroke-width="1.2"/>
<text x="39.20" y="576.64" font-size="12.8" font-weight="bold" text-anchor="start" fill="#111" textLength="13.00" lengthAdjust="spacingAndGlyphs" stroke="#111" stroke-width="0.35" stroke-linejoin="round">6.0</text>
<line x1="59.00" y1="547.22" x2="63.00" y2="547.22" stroke="#111" stroke-width="1.2"/>
<text x="39.20" y="551.82" font-size="12.8" font-weight="bold" text-anchor="start" fill="#111" textLength="13.00" lengthAdjust="spacingAndGlyphs" stroke="#111" stroke-width="0.35" stroke-linejoin="round">8.0</text>
<line x1="59.00" y1="522.40" x2="63.00" y2="522.40" stroke="#111" stroke-width="1.2"/>
<text x="34.60" y="527.00" font-size="12.8" font-weight="bold" text-anchor="start" fill="#111" textLength="17.60" lengthAdjust="spacingAndGlyphs" stroke="#111" stroke-width="0.35" stroke-linejoin="round">10.0</text>
<line x1="59.00" y1="497.58" x2="63.00" y2="497.58" stroke="#111" stroke-width="1.2"/>
<text x="34.60" y="502.18" font-size="12.8" font-weight="bold" text-anchor="start" fill="#111" textLength="17.60" lengthAdjust="spacingAndGlyphs" stroke="#111" stroke-width="0.35" stroke-linejoin="round">12.0</text>
<line x1="59.00" y1="472.76" x2="63.00" y2="472.76" stroke="#111" stroke-width="1.2"/>
<text x="34.60" y="477.36" font-size="12.8" font-weight="bold" text-anchor="start" fill="#111" textLength="17.60" lengthAdjust="spacingAndGlyphs" stroke="#111" stroke-width="0.35" stroke-linejoin="round">14.0</text>
<text x="0" y="0" font-size="15" font-weight="normal" fill="#1a1a1a" stroke="#1a1a1a" stroke-width="0.7" textLength="184.80" lengthAdjust="spacingAndGlyphs" transform="translate(27.30 659.00) rotate(-90)">Fold Change ssAAV2/PBS</text>
<g transform="rotate(-0.338 63.00 646.50)">
<rect x="73.10" y="606.76" width="12.85" height="39.74" fill="#3d3d3d"/>
<rect x="86.00" y="620.61" width="12.85" height="25.89" fill="#a2a2a2"/>
<rect x="98.90" y="621.93" width="12.85" height="24.57" fill="#dddddd"/>
<rect x="131.77" y="605.37" width="12.85" height="41.13" fill="#3d3d3d"/>
<rect x="144.67" y="634.11" width="12.85" height="12.39" fill="#a2a2a2"/>
<rect x="157.57" y="629.10" width="12.85" height="17.40" fill="#dddddd"/>
<rect x="190.44" y="605.10" width="12.85" height="41.40" fill="#3d3d3d"/>
<rect x="203.34" y="610.38" width="12.85" height="36.12" fill="#a2a2a2"/>
<rect x="216.24" y="621.51" width="12.85" height="24.99" fill="#dddddd"/>
<rect x="249.11" y="609.66" width="12.85" height="36.84" fill="#3d3d3d"/>
<rect x="262.01" y="615.45" width="12.85" height="31.05" fill="#a2a2a2"/>
<rect x="274.91" y="624.58" width="12.85" height="21.92" fill="#dddddd"/>
<rect x="307.78" y="605.79" width="12.85" height="40.71" fill="#3d3d3d"/>
<rect x="320.68" y="617.65" width="12.85" height="28.85" fill="#a2a2a2"/>
<rect x="333.58" y="627.78" width="12.85" height="18.72" fill="#dddddd"/>
<rect x="366.45" y="601.42" width="12.85" height="45.08" fill="#3d3d3d"/>
<rect x="379.35" y="610.80" width="12.85" height="35.70" fill="#a2a2a2"/>
<rect x="392.25" y="631.23" width="12.85" height="15.27" fill="#dddddd"/>
<rect x="425.12" y="609.21" width="12.85" height="37.29" fill="#3d3d3d"/>
<rect x="438.02" y="616.11" width="12.85" height="30.39" fill="#a2a2a2"/>
<rect x="450.92" y="625.37" width="12.85" height="21.13" fill="#dddddd"/>
<line x1="59.00" y1="646.50" x2="474.05" y2="646.50" stroke="#111" stroke-width="1.4"/>
<line x1="121.65" y1="646.50" x2="121.65" y2="650.70" stroke="#111" stroke-width="1.2"/>
<line x1="180.30" y1="646.50" x2="180.30" y2="650.70" stroke="#111" stroke-width="1.2"/>
<line x1="238.95" y1="646.50" x2="238.95" y2="650.70" stroke="#111" stroke-width="1.2"/>
<line x1="297.60" y1="646.50" x2="297.60" y2="650.70" stroke="#111" stroke-width="1.2"/>
<line x1="356.25" y1="646.50" x2="356.25" y2="650.70" stroke="#111" stroke-width="1.2"/>
<line x1="414.90" y1="646.50" x2="414.90" y2="650.70" stroke="#111" stroke-width="1.2"/>
<line x1="473.55" y1="646.50" x2="473.55" y2="650.70" stroke="#111" stroke-width="1.2"/>
<line x1="63.00" y1="613.86" x2="469.20" y2="613.86" stroke="#111" stroke-width="2.1"/>
<text x="86.49" y="674.90" font-size="13.3" font-weight="bold" text-anchor="start" fill="#111" textLength="15.08" lengthAdjust="spacingAndGlyphs" stroke="#111" stroke-width="0.35" stroke-linejoin="round">TNF</text>
<text x="101.87" y="674.90" font-size="13.566" font-weight="normal" text-anchor="start" fill="#111" textLength="8.25" lengthAdjust="spacingAndGlyphs" stroke="#111" stroke-width="0.35" stroke-linejoin="round">α</text>
<text x="139.51" y="672.90" font-size="13.3" font-weight="bold" text-anchor="start" fill="#111" textLength="22.57" lengthAdjust="spacingAndGlyphs" stroke="#111" stroke-width="0.35" stroke-linejoin="round">MCP1</text>
<text x="199.65" y="674.90" font-size="13.3" font-weight="bold" text-anchor="start" fill="#111" textLength="14.55" lengthAdjust="spacingAndGlyphs" stroke="#111" stroke-width="0.35" stroke-linejoin="round">IFN</text>
<text x="214.50" y="674.90" font-size="13.566" font-weight="normal" text-anchor="start" fill="#111" textLength="8.25" lengthAdjust="spacingAndGlyphs" stroke="#111" stroke-width="0.35" stroke-linejoin="round">α</text>
<text x="263.18" y="674.90" font-size="13.3" font-weight="bold" text-anchor="start" fill="#111" textLength="14.30" lengthAdjust="spacingAndGlyphs" stroke="#111" stroke-width="0.35" stroke-linejoin="round">IFN</text>
<text x="277.78" y="674.90" font-size="13.566" font-weight="normal" text-anchor="start" fill="#111" textLength="7.45" lengthAdjust="spacingAndGlyphs" stroke="#111" stroke-width="0.35" stroke-linejoin="round">β</text>
<text x="318.29" y="673.40" font-size="13.3" font-weight="bold" text-anchor="start" fill="#111" textLength="19.43" lengthAdjust="spacingAndGlyphs" stroke="#111" stroke-width="0.35" stroke-linejoin="round">IP10</text>
<text x="375.56" y="674.90" font-size="13.3" font-weight="bold" text-anchor="start" fill="#111" textLength="20.48" lengthAdjust="spacingAndGlyphs" stroke="#111" stroke-width="0.35" stroke-linejoin="round">TLR9</text>
<text x="429.71" y="674.90" font-size="13.3" font-weight="bold" text-anchor="start" fill="#111" textLength="30.98" lengthAdjust="spacingAndGlyphs" stroke="#111" stroke-width="0.35" stroke-linejoin="round">MyD88</text>
</g>
<rect x="74.50" y="471.20" width="11.30" height="11.20" fill="#3d3d3d"/>
<text x="90.60" y="482.10" font-size="14" font-weight="normal" text-anchor="start" fill="#1a1a1a" textLength="18.80" lengthAdjust="spacingAndGlyphs" stroke="#1a1a1a" stroke-width="0.75">2hr</text>
<rect x="74.50" y="492.50" width="11.30" height="11.20" fill="#a2a2a2"/>
<text x="90.60" y="503.40" font-size="14" font-weight="normal" text-anchor="start" fill="#1a1a1a" textLength="18.80" lengthAdjust="spacingAndGlyphs" stroke="#1a1a1a" stroke-width="0.75">6hr</text>
<rect x="74.50" y="513.10" width="11.30" height="11.30" fill="#dddddd"/>
<text x="90.60" y="524.10" font-size="14" font-weight="normal" text-anchor="start" fill="#1a1a1a" textLength="18.80" lengthAdjust="spacingAndGlyphs" stroke="#1a1a1a" stroke-width="0.75">9hr</text>
<text x="10.90" y="707.30" font-size="19.9" font-weight="bold" text-anchor="start" fill="#111" textLength="14.10" lengthAdjust="spacingAndGlyphs">E</text>
<line x1="65.80" y1="716.28" x2="65.80" y2="893.60" stroke="#111" stroke-width="1.5"/>
<line x1="61.80" y1="889.40" x2="65.80" y2="889.40" stroke="#111" stroke-width="1.2"/>
<text x="42.00" y="894.00" font-size="12.8" font-weight="bold" text-anchor="start" fill="#111" textLength="13.00" lengthAdjust="spacingAndGlyphs" stroke="#111" stroke-width="0.35" stroke-linejoin="round">0.0</text>
<line x1="61.80" y1="864.74" x2="65.80" y2="864.74" stroke="#111" stroke-width="1.2"/>
<text x="42.00" y="869.34" font-size="12.8" font-weight="bold" text-anchor="start" fill="#111" textLength="13.00" lengthAdjust="spacingAndGlyphs" stroke="#111" stroke-width="0.35" stroke-linejoin="round">2.0</text>
<line x1="61.80" y1="840.08" x2="65.80" y2="840.08" stroke="#111" stroke-width="1.2"/>
<text x="42.00" y="844.68" font-size="12.8" font-weight="bold" text-anchor="start" fill="#111" textLength="13.00" lengthAdjust="spacingAndGlyphs" stroke="#111" stroke-width="0.35" stroke-linejoin="round">4.0</text>
<line x1="61.80" y1="815.42" x2="65.80" y2="815.42" stroke="#111" stroke-width="1.2"/>
<text x="42.00" y="820.02" font-size="12.8" font-weight="bold" text-anchor="start" fill="#111" textLength="13.00" lengthAdjust="spacingAndGlyphs" stroke="#111" stroke-width="0.35" stroke-linejoin="round">6.0</text>
<line x1="61.80" y1="790.76" x2="65.80" y2="790.76" stroke="#111" stroke-width="1.2"/>
<text x="42.00" y="795.36" font-size="12.8" font-weight="bold" text-anchor="start" fill="#111" textLength="13.00" lengthAdjust="spacingAndGlyphs" stroke="#111" stroke-width="0.35" stroke-linejoin="round">8.0</text>
<line x1="61.80" y1="766.10" x2="65.80" y2="766.10" stroke="#111" stroke-width="1.2"/>
<text x="37.40" y="770.70" font-size="12.8" font-weight="bold" text-anchor="start" fill="#111" textLength="17.60" lengthAdjust="spacingAndGlyphs" stroke="#111" stroke-width="0.35" stroke-linejoin="round">10.0</text>
<line x1="61.80" y1="741.44" x2="65.80" y2="741.44" stroke="#111" stroke-width="1.2"/>
<text x="37.40" y="746.04" font-size="12.8" font-weight="bold" text-anchor="start" fill="#111" textLength="17.60" lengthAdjust="spacingAndGlyphs" stroke="#111" stroke-width="0.35" stroke-linejoin="round">12.0</text>
<line x1="61.80" y1="716.78" x2="65.80" y2="716.78" stroke="#111" stroke-width="1.2"/>
<text x="37.40" y="721.38" font-size="12.8" font-weight="bold" text-anchor="start" fill="#111" textLength="17.60" lengthAdjust="spacingAndGlyphs" stroke="#111" stroke-width="0.35" stroke-linejoin="round">14.0</text>
<text x="0" y="0" font-size="15" font-weight="normal" fill="#1a1a1a" stroke="#1a1a1a" stroke-width="0.7" textLength="181.00" lengthAdjust="spacingAndGlyphs" transform="translate(29.60 899.50) rotate(-90)">Fold Change scAAV2/PBS</text>
<g transform="rotate(-0.338 65.80 889.40)">
<rect x="72.00" y="812.15" width="8.00" height="77.25" fill="#3d3d3d"/>
<rect x="80.05" y="853.75" width="8.00" height="35.65" fill="#a2a2a2"/>
<rect x="88.10" y="876.36" width="8.00" height="13.04" fill="#dddddd"/>
<rect x="108.60" y="795.72" width="8.00" height="93.68" fill="#3d3d3d"/>
<rect x="116.65" y="857.91" width="8.00" height="31.49" fill="#a2a2a2"/>
<rect x="124.70" y="867.21" width="8.00" height="22.19" fill="#dddddd"/>
<rect x="145.20" y="786.57" width="8.00" height="102.83" fill="#3d3d3d"/>
<rect x="153.25" y="842.47" width="8.00" height="46.93" fill="#a2a2a2"/>
<rect x="161.30" y="866.81" width="8.00" height="22.59" fill="#dddddd"/>
<rect x="181.80" y="841.16" width="8.00" height="48.24" fill="#3d3d3d"/>
<rect x="189.85" y="865.50" width="8.00" height="23.90" fill="#a2a2a2"/>
<rect x="197.90" y="867.52" width="8.00" height="21.88" fill="#dddddd"/>
<rect x="218.40" y="797.97" width="8.00" height="91.43" fill="#3d3d3d"/>
<rect x="226.45" y="842.41" width="8.00" height="46.99" fill="#a2a2a2"/>
<rect x="234.50" y="854.66" width="8.00" height="34.74" fill="#dddddd"/>
<rect x="255.00" y="743.07" width="8.00" height="146.33" fill="#3d3d3d"/>
<rect x="263.05" y="810.81" width="8.00" height="78.59" fill="#a2a2a2"/>
<rect x="271.10" y="848.59" width="8.00" height="40.81" fill="#dddddd"/>
<rect x="291.60" y="763.76" width="8.00" height="125.64" fill="#3d3d3d"/>
<rect x="299.65" y="803.01" width="8.00" height="86.39" fill="#a2a2a2"/>
<rect x="307.70" y="852.26" width="8.00" height="37.14" fill="#dddddd"/>
<rect x="328.20" y="776.06" width="8.00" height="113.34" fill="#3d3d3d"/>
<rect x="336.25" y="818.89" width="8.00" height="70.51" fill="#a2a2a2"/>
<rect x="344.30" y="863.20" width="8.00" height="26.20" fill="#dddddd"/>
<rect x="364.80" y="820.66" width="8.00" height="68.74" fill="#3d3d3d"/>
<rect x="372.85" y="866.95" width="8.00" height="22.45" fill="#a2a2a2"/>
<rect x="380.90" y="870.32" width="8.00" height="19.08" fill="#dddddd"/>
<rect x="401.40" y="847.63" width="8.00" height="41.77" fill="#3d3d3d"/>
<rect x="409.45" y="863.59" width="8.00" height="25.81" fill="#a2a2a2"/>
<rect x="417.50" y="874.11" width="8.00" height="15.29" fill="#dddddd"/>
<rect x="438.00" y="747.73" width="8.00" height="141.67" fill="#3d3d3d"/>
<rect x="446.05" y="810.78" width="8.00" height="78.62" fill="#a2a2a2"/>
<rect x="454.10" y="862.86" width="8.00" height="26.54" fill="#dddddd"/>
<rect x="474.60" y="756.21" width="8.00" height="133.19" fill="#3d3d3d"/>
<rect x="482.65" y="827.27" width="8.00" height="62.13" fill="#a2a2a2"/>
<rect x="490.70" y="868.26" width="8.00" height="21.14" fill="#dddddd"/>
<line x1="61.80" y1="889.40" x2="505.74" y2="889.40" stroke="#111" stroke-width="1.4"/>
<line x1="102.42" y1="889.40" x2="102.42" y2="893.60" stroke="#111" stroke-width="1.2"/>
<line x1="139.04" y1="889.40" x2="139.04" y2="893.60" stroke="#111" stroke-width="1.2"/>
<line x1="175.66" y1="889.40" x2="175.66" y2="893.60" stroke="#111" stroke-width="1.2"/>
<line x1="212.28" y1="889.40" x2="212.28" y2="893.60" stroke="#111" stroke-width="1.2"/>
<line x1="248.90" y1="889.40" x2="248.90" y2="893.60" stroke="#111" stroke-width="1.2"/>
<line x1="285.52" y1="889.40" x2="285.52" y2="893.60" stroke="#111" stroke-width="1.2"/>
<line x1="322.14" y1="889.40" x2="322.14" y2="893.60" stroke="#111" stroke-width="1.2"/>
<line x1="358.76" y1="889.40" x2="358.76" y2="893.60" stroke="#111" stroke-width="1.2"/>
<line x1="395.38" y1="889.40" x2="395.38" y2="893.60" stroke="#111" stroke-width="1.2"/>
<line x1="432.00" y1="889.40" x2="432.00" y2="893.60" stroke="#111" stroke-width="1.2"/>
<line x1="468.62" y1="889.40" x2="468.62" y2="893.60" stroke="#111" stroke-width="1.2"/>
<line x1="505.24" y1="889.40" x2="505.24" y2="893.60" stroke="#111" stroke-width="1.2"/>
<line x1="65.80" y1="857.10" x2="504.30" y2="857.10" stroke="#111" stroke-width="2.1"/>
<text x="68.70" y="915.00" font-size="13.3" font-weight="bold" text-anchor="start" fill="#111" textLength="16.65" lengthAdjust="spacingAndGlyphs" stroke="#111" stroke-width="0.35" stroke-linejoin="round">IL12</text>
<text x="85.65" y="915.00" font-size="13.566" font-weight="normal" text-anchor="start" fill="#111" textLength="8.25" lengthAdjust="spacingAndGlyphs" stroke="#111" stroke-width="0.35" stroke-linejoin="round">α</text>
<text x="117.96" y="915.00" font-size="13.3" font-weight="bold" text-anchor="start" fill="#111" textLength="12.08" lengthAdjust="spacingAndGlyphs" stroke="#111" stroke-width="0.35" stroke-linejoin="round">IL6</text>
<text x="147.21" y="915.00" font-size="13.3" font-weight="bold" text-anchor="start" fill="#111" textLength="14.03" lengthAdjust="spacingAndGlyphs" stroke="#111" stroke-width="0.35" stroke-linejoin="round">TNF</text>
<text x="161.54" y="915.00" font-size="13.566" font-weight="normal" text-anchor="start" fill="#111" textLength="8.25" lengthAdjust="spacingAndGlyphs" stroke="#111" stroke-width="0.35" stroke-linejoin="round">α</text>
<text x="178.25" y="915.00" font-size="13.3" font-weight="bold" text-anchor="start" fill="#111" textLength="31.50" lengthAdjust="spacingAndGlyphs" stroke="#111" stroke-width="0.35" stroke-linejoin="round">RANTES</text>
<text x="219.45" y="915.00" font-size="13.3" font-weight="bold" text-anchor="start" fill="#111" textLength="23.10" lengthAdjust="spacingAndGlyphs" stroke="#111" stroke-width="0.35" stroke-linejoin="round">MCP1</text>
<text x="259.78" y="915.00" font-size="13.3" font-weight="bold" text-anchor="start" fill="#111" textLength="13.50" lengthAdjust="spacingAndGlyphs" stroke="#111" stroke-width="0.35" stroke-linejoin="round">IFN</text>
<text x="273.58" y="915.00" font-size="13.566" font-weight="normal" text-anchor="start" fill="#111" textLength="8.25" lengthAdjust="spacingAndGlyphs" stroke="#111" stroke-width="0.35" stroke-linejoin="round">α</text>
<text x="292.10" y="915.00" font-size="13.3" font-weight="bold" text-anchor="start" fill="#111" textLength="13.25" lengthAdjust="spacingAndGlyphs" stroke="#111" stroke-width="0.35" stroke-linejoin="round">IFN</text>
<text x="305.65" y="915.00" font-size="13.566" font-weight="normal" text-anchor="start" fill="#111" textLength="7.45" lengthAdjust="spacingAndGlyphs" stroke="#111" stroke-width="0.35" stroke-linejoin="round">β</text>
<text x="331.05" y="915.00" font-size="13.3" font-weight="bold" text-anchor="start" fill="#111" textLength="18.90" lengthAdjust="spacingAndGlyphs" stroke="#111" stroke-width="0.35" stroke-linejoin="round">IP10</text>
<text x="366.76" y="915.00" font-size="13.3" font-weight="bold" text-anchor="start" fill="#111" textLength="20.48" lengthAdjust="spacingAndGlyphs" stroke="#111" stroke-width="0.35" stroke-linejoin="round">MIP1</text>
<text x="403.46" y="915.00" font-size="13.3" font-weight="bold" text-anchor="start" fill="#111" textLength="20.48" lengthAdjust="spacingAndGlyphs" stroke="#111" stroke-width="0.35" stroke-linejoin="round">TLR2</text>
<text x="441.26" y="915.00" font-size="13.3" font-weight="bold" text-anchor="start" fill="#111" textLength="20.48" lengthAdjust="spacingAndGlyphs" stroke="#111" stroke-width="0.35" stroke-linejoin="round">TLR9</text>
<text x="471.44" y="915.00" font-size="13.3" font-weight="bold" text-anchor="start" fill="#111" textLength="29.93" lengthAdjust="spacingAndGlyphs" stroke="#111" stroke-width="0.35" stroke-linejoin="round">MyD88</text>
</g>
<rect x="77.50" y="711.80" width="11.30" height="10.80" fill="#3d3d3d"/>
<text x="93.00" y="722.30" font-size="14" font-weight="normal" text-anchor="start" fill="#1a1a1a" textLength="20.00" lengthAdjust="spacingAndGlyphs" stroke="#1a1a1a" stroke-width="0.75">2hr</text>
<rect x="77.50" y="734.40" width="11.30" height="10.70" fill="#a2a2a2"/>
<text x="93.00" y="744.80" font-size="14" font-weight="normal" text-anchor="start" fill="#1a1a1a" textLength="20.00" lengthAdjust="spacingAndGlyphs" stroke="#1a1a1a" stroke-width="0.75">6hr</text>
<rect x="77.50" y="757.80" width="11.30" height="10.40" fill="#dddddd"/>
<text x="93.00" y="767.90" font-size="14" font-weight="normal" text-anchor="start" fill="#1a1a1a" textLength="20.00" lengthAdjust="spacingAndGlyphs" stroke="#1a1a1a" stroke-width="0.75">9hr</text>
<text x="10.00" y="951.00" font-size="19.9" font-weight="bold" text-anchor="start" fill="#111" textLength="13.60" lengthAdjust="spacingAndGlyphs">F</text>
<line x1="60.50" y1="961.35" x2="60.50" y2="1080.10" stroke="#111" stroke-width="1.6"/>
<line x1="56.30" y1="1079.40" x2="60.50" y2="1079.40" stroke="#111" stroke-width="1.3"/>
<text x="50.60" y="1083.80" font-size="13.4" font-weight="normal" text-anchor="start" fill="#111" textLength="5.20" lengthAdjust="spacingAndGlyphs" stroke="#111" stroke-width="0.4" stroke-linejoin="round">0</text>
<line x1="56.30" y1="1040.25" x2="60.50" y2="1040.25" stroke="#111" stroke-width="1.3"/>
<text x="40.20" y="1044.65" font-size="13.4" font-weight="normal" text-anchor="start" fill="#111" textLength="15.60" lengthAdjust="spacingAndGlyphs" stroke="#111" stroke-width="0.4" stroke-linejoin="round">500</text>
<line x1="56.30" y1="1001.10" x2="60.50" y2="1001.10" stroke="#111" stroke-width="1.3"/>
<text x="35.20" y="1005.50" font-size="13.4" font-weight="normal" text-anchor="start" fill="#111" textLength="20.60" lengthAdjust="spacingAndGlyphs" stroke="#111" stroke-width="0.4" stroke-linejoin="round">1000</text>
<line x1="56.30" y1="961.95" x2="60.50" y2="961.95" stroke="#111" stroke-width="1.3"/>
<text x="35.20" y="966.35" font-size="13.4" font-weight="normal" text-anchor="start" fill="#111" textLength="20.60" lengthAdjust="spacingAndGlyphs" stroke="#111" stroke-width="0.4" stroke-linejoin="round">1500</text>
<text x="0" y="0" font-size="18.4" font-weight="bold" fill="#111" textLength="32.40" lengthAdjust="spacingAndGlyphs" transform="translate(30.70 1031.60) rotate(-90)">pg/ml</text>
<rect x="65.20" y="1045.90" width="7.50" height="32.70" fill="#ffffff" stroke="#111" stroke-width="1.6"/>
<rect x="73.80" y="1045.81" width="9.40" height="33.59" fill="#b2b2b2"/>
<rect x="83.30" y="1039.86" width="9.20" height="39.54" fill="#222222"/>
<line x1="68.95" y1="1036.26" x2="68.95" y2="1053.95" stroke="#1a1a1a" stroke-width="0.95"/>
<line x1="66.25" y1="1036.26" x2="71.65" y2="1036.26" stroke="#1a1a1a" stroke-width="0.95"/>
<line x1="66.25" y1="1053.95" x2="71.65" y2="1053.95" stroke="#1a1a1a" stroke-width="0.95"/>
<line x1="78.50" y1="1036.80" x2="78.50" y2="1054.81" stroke="#1a1a1a" stroke-width="0.95"/>
<line x1="75.80" y1="1036.80" x2="81.20" y2="1036.80" stroke="#1a1a1a" stroke-width="0.95"/>
<line x1="75.80" y1="1054.81" x2="81.20" y2="1054.81" stroke="#1a1a1a" stroke-width="0.95"/>
<line x1="87.90" y1="1032.11" x2="87.90" y2="1047.61" stroke="#1a1a1a" stroke-width="0.95"/>
<line x1="85.20" y1="1032.11" x2="90.60" y2="1032.11" stroke="#1a1a1a" stroke-width="0.95"/>
<line x1="85.20" y1="1047.61" x2="90.60" y2="1047.61" stroke="#1a1a1a" stroke-width="0.95"/>
<rect x="99.70" y="1069.71" width="7.70" height="8.89" fill="#ffffff" stroke="#111" stroke-width="1.6"/>
<rect x="108.70" y="1066.87" width="8.80" height="12.53" fill="#b2b2b2"/>
<rect x="118.00" y="1063.51" width="9.40" height="15.89" fill="#222222"/>
<line x1="103.55" y1="1064.60" x2="103.55" y2="1073.21" stroke="#1a1a1a" stroke-width="0.95"/>
<line x1="100.85" y1="1064.60" x2="106.25" y2="1064.60" stroke="#1a1a1a" stroke-width="0.95"/>
<line x1="100.85" y1="1073.21" x2="106.25" y2="1073.21" stroke="#1a1a1a" stroke-width="0.95"/>
<line x1="113.10" y1="1061.70" x2="113.10" y2="1072.04" stroke="#1a1a1a" stroke-width="0.95"/>
<line x1="110.40" y1="1061.70" x2="115.80" y2="1061.70" stroke="#1a1a1a" stroke-width="0.95"/>
<line x1="110.40" y1="1072.04" x2="115.80" y2="1072.04" stroke="#1a1a1a" stroke-width="0.95"/>
<line x1="122.70" y1="1059.36" x2="122.70" y2="1067.66" stroke="#1a1a1a" stroke-width="0.95"/>
<line x1="120.00" y1="1059.36" x2="125.40" y2="1059.36" stroke="#1a1a1a" stroke-width="0.95"/>
<line x1="120.00" y1="1067.66" x2="125.40" y2="1067.66" stroke="#1a1a1a" stroke-width="0.95"/>
<rect x="135.00" y="1063.13" width="7.50" height="15.47" fill="#ffffff" stroke="#111" stroke-width="1.6"/>
<rect x="143.80" y="1061.00" width="9.20" height="18.40" fill="#b2b2b2"/>
<rect x="153.30" y="1055.52" width="9.30" height="23.88" fill="#222222"/>
<line x1="138.75" y1="1057.48" x2="138.75" y2="1067.19" stroke="#1a1a1a" stroke-width="0.95"/>
<line x1="136.05" y1="1057.48" x2="141.45" y2="1057.48" stroke="#1a1a1a" stroke-width="0.95"/>
<line x1="136.05" y1="1067.19" x2="141.45" y2="1067.19" stroke="#1a1a1a" stroke-width="0.95"/>
<line x1="148.40" y1="1057.55" x2="148.40" y2="1064.44" stroke="#1a1a1a" stroke-width="0.95"/>
<line x1="145.70" y1="1057.55" x2="151.10" y2="1057.55" stroke="#1a1a1a" stroke-width="0.95"/>
<line x1="145.70" y1="1064.44" x2="151.10" y2="1064.44" stroke="#1a1a1a" stroke-width="0.95"/>
<line x1="157.95" y1="1050.82" x2="157.95" y2="1060.22" stroke="#1a1a1a" stroke-width="0.95"/>
<line x1="155.25" y1="1050.82" x2="160.65" y2="1050.82" stroke="#1a1a1a" stroke-width="0.95"/>
<line x1="155.25" y1="1060.22" x2="160.65" y2="1060.22" stroke="#1a1a1a" stroke-width="0.95"/>
<rect x="169.70" y="1025.16" width="8.10" height="53.44" fill="#ffffff" stroke="#111" stroke-width="1.6"/>
<rect x="178.80" y="1009.71" width="9.60" height="69.69" fill="#b2b2b2"/>
<rect x="188.80" y="981.13" width="9.20" height="98.27" fill="#222222"/>
<line x1="173.75" y1="1016.60" x2="173.75" y2="1032.11" stroke="#1a1a1a" stroke-width="0.95"/>
<line x1="171.05" y1="1016.60" x2="176.45" y2="1016.60" stroke="#1a1a1a" stroke-width="0.95"/>
<line x1="171.05" y1="1032.11" x2="176.45" y2="1032.11" stroke="#1a1a1a" stroke-width="0.95"/>
<line x1="183.60" y1="996.25" x2="183.60" y2="1023.18" stroke="#1a1a1a" stroke-width="0.95"/>
<line x1="180.90" y1="996.25" x2="186.30" y2="996.25" stroke="#1a1a1a" stroke-width="0.95"/>
<line x1="180.90" y1="1023.18" x2="186.30" y2="1023.18" stroke="#1a1a1a" stroke-width="0.95"/>
<line x1="193.40" y1="963.36" x2="193.40" y2="998.91" stroke="#1a1a1a" stroke-width="0.95"/>
<line x1="190.70" y1="963.36" x2="196.10" y2="963.36" stroke="#1a1a1a" stroke-width="0.95"/>
<line x1="190.70" y1="998.91" x2="196.10" y2="998.91" stroke="#1a1a1a" stroke-width="0.95"/>
<rect x="205.10" y="1053.58" width="7.90" height="25.02" fill="#ffffff" stroke="#111" stroke-width="1.6"/>
<rect x="214.20" y="1036.88" width="9.40" height="42.52" fill="#b2b2b2"/>
<rect x="224.10" y="1015.66" width="9.10" height="63.74" fill="#222222"/>
<line x1="209.05" y1="1046.36" x2="209.05" y2="1059.20" stroke="#1a1a1a" stroke-width="0.95"/>
<line x1="206.35" y1="1046.36" x2="211.75" y2="1046.36" stroke="#1a1a1a" stroke-width="0.95"/>
<line x1="206.35" y1="1059.20" x2="211.75" y2="1059.20" stroke="#1a1a1a" stroke-width="0.95"/>
<line x1="218.90" y1="1023.57" x2="218.90" y2="1050.19" stroke="#1a1a1a" stroke-width="0.95"/>
<line x1="216.20" y1="1023.57" x2="221.60" y2="1023.57" stroke="#1a1a1a" stroke-width="0.95"/>
<line x1="216.20" y1="1050.19" x2="221.60" y2="1050.19" stroke="#1a1a1a" stroke-width="0.95"/>
<line x1="228.65" y1="1007.91" x2="228.65" y2="1023.42" stroke="#1a1a1a" stroke-width="0.95"/>
<line x1="225.95" y1="1007.91" x2="231.35" y2="1007.91" stroke="#1a1a1a" stroke-width="0.95"/>
<line x1="225.95" y1="1023.42" x2="231.35" y2="1023.42" stroke="#1a1a1a" stroke-width="0.95"/>
<rect x="240.40" y="1049.27" width="7.60" height="29.33" fill="#ffffff" stroke="#111" stroke-width="1.6"/>
<rect x="249.30" y="1036.18" width="9.10" height="43.22" fill="#b2b2b2"/>
<rect x="259.00" y="1026.16" width="9.40" height="53.24" fill="#222222"/>
<line x1="244.20" y1="1041.11" x2="244.20" y2="1055.83" stroke="#1a1a1a" stroke-width="0.95"/>
<line x1="241.50" y1="1041.11" x2="246.90" y2="1041.11" stroke="#1a1a1a" stroke-width="0.95"/>
<line x1="241.50" y1="1055.83" x2="246.90" y2="1055.83" stroke="#1a1a1a" stroke-width="0.95"/>
<line x1="253.85" y1="1029.13" x2="253.85" y2="1043.23" stroke="#1a1a1a" stroke-width="0.95"/>
<line x1="251.15" y1="1029.13" x2="256.55" y2="1029.13" stroke="#1a1a1a" stroke-width="0.95"/>
<line x1="251.15" y1="1043.23" x2="256.55" y2="1043.23" stroke="#1a1a1a" stroke-width="0.95"/>
<line x1="263.70" y1="1018.40" x2="263.70" y2="1033.91" stroke="#1a1a1a" stroke-width="0.95"/>
<line x1="261.00" y1="1018.40" x2="266.40" y2="1018.40" stroke="#1a1a1a" stroke-width="0.95"/>
<line x1="261.00" y1="1033.91" x2="266.40" y2="1033.91" stroke="#1a1a1a" stroke-width="0.95"/>
<line x1="56.30" y1="1079.40" x2="271.20" y2="1078.80" stroke="#111" stroke-width="2.0"/>
<line x1="78.30" y1="1079.40" x2="78.30" y2="1083.60" stroke="#111" stroke-width="1.2"/>
<line x1="113.00" y1="1079.40" x2="113.00" y2="1083.60" stroke="#111" stroke-width="1.2"/>
<line x1="148.00" y1="1079.40" x2="148.00" y2="1083.60" stroke="#111" stroke-width="1.2"/>
<line x1="183.80" y1="1079.40" x2="183.80" y2="1083.60" stroke="#111" stroke-width="1.2"/>
<line x1="219.20" y1="1079.40" x2="219.20" y2="1083.60" stroke="#111" stroke-width="1.2"/>
<line x1="254.00" y1="1079.40" x2="254.00" y2="1083.60" stroke="#111" stroke-width="1.2"/>
<line x1="165.90" y1="1079.40" x2="165.90" y2="1100.40" stroke="#111" stroke-width="1.4"/>
<text x="67.45" y="1096.70" font-size="13.3" font-weight="normal" text-anchor="start" fill="#111" textLength="21.30" lengthAdjust="spacingAndGlyphs" stroke="#111" stroke-width="0.5" stroke-linejoin="round">MCP1</text>
<text x="102.35" y="1096.70" font-size="13.3" font-weight="normal" text-anchor="start" fill="#111" textLength="12.95" lengthAdjust="spacingAndGlyphs" stroke="#111" stroke-width="0.5" stroke-linejoin="round">TNF</text>
<text x="115.60" y="1096.70" font-size="12.635" font-weight="normal" text-anchor="start" fill="#111" textLength="7.83" lengthAdjust="spacingAndGlyphs" stroke="#111" stroke-width="0.12" stroke-linejoin="round">α</text>
<text x="142.80" y="1096.70" font-size="13.3" font-weight="normal" text-anchor="start" fill="#111" textLength="11.80" lengthAdjust="spacingAndGlyphs" stroke="#111" stroke-width="0.5" stroke-linejoin="round">IL6</text>
<text x="173.15" y="1096.70" font-size="13.3" font-weight="normal" text-anchor="start" fill="#111" textLength="21.30" lengthAdjust="spacingAndGlyphs" stroke="#111" stroke-width="0.5" stroke-linejoin="round">MCP1</text>
<text x="208.65" y="1096.70" font-size="13.3" font-weight="normal" text-anchor="start" fill="#111" textLength="12.95" lengthAdjust="spacingAndGlyphs" stroke="#111" stroke-width="0.5" stroke-linejoin="round">TNF</text>
<text x="221.90" y="1096.70" font-size="12.635" font-weight="normal" text-anchor="start" fill="#111" textLength="7.83" lengthAdjust="spacingAndGlyphs" stroke="#111" stroke-width="0.12" stroke-linejoin="round">α</text>
<text x="248.30" y="1096.70" font-size="13.3" font-weight="normal" text-anchor="start" fill="#111" textLength="11.80" lengthAdjust="spacingAndGlyphs" stroke="#111" stroke-width="0.5" stroke-linejoin="round">IL6</text>
<text x="96.30" y="1116.20" font-size="14" font-weight="normal" text-anchor="start" fill="#111" textLength="34.20" lengthAdjust="spacingAndGlyphs" stroke="#111" stroke-width="0.5" stroke-linejoin="round">ss AAV2</text>
<text x="202.10" y="1116.20" font-size="14" font-weight="normal" text-anchor="start" fill="#111" textLength="34.20" lengthAdjust="spacingAndGlyphs" stroke="#111" stroke-width="0.5" stroke-linejoin="round">sc AAV2</text>
<path d="M173.00 1011.50 V961.30 H184.60" fill="none" stroke="#555" stroke-width="0.9"/>
<text x="168.80" y="955.00" font-size="11.2" font-weight="normal" text-anchor="start" fill="#3a3a3a" textLength="26.20" lengthAdjust="spacingAndGlyphs" stroke="#3a3a3a" stroke-width="0.3">p&lt;0.05</text>
<path d="M209.30 1042.90 V1007.00 H220.60" fill="none" stroke="#555" stroke-width="0.9"/>
<text x="207.50" y="1002.50" font-size="11.2" font-weight="normal" text-anchor="start" fill="#3a3a3a" textLength="27.00" lengthAdjust="spacingAndGlyphs" stroke="#3a3a3a" stroke-width="0.3">p&lt;0.05</text>
<path d="M244.30 1037.70 V1018.80 H260.20" fill="none" stroke="#555" stroke-width="0.9"/>
<text x="243.30" y="1013.00" font-size="11.2" font-weight="normal" text-anchor="start" fill="#3a3a3a" textLength="26.70" lengthAdjust="spacingAndGlyphs" stroke="#3a3a3a" stroke-width="0.3">p&lt;0.05</text>
<rect x="68.15" y="961.35" width="13.30" height="7.30" fill="#ffffff" stroke="#111" stroke-width="1.5"/>
<rect x="67.40" y="975.40" width="14.80" height="8.60" fill="#b2b2b2"/>
<rect x="67.40" y="989.10" width="14.80" height="8.70" fill="#222222"/>
<text x="88.40" y="969.60" font-size="12.2" font-weight="normal" text-anchor="start" fill="#111" textLength="21.60" lengthAdjust="spacingAndGlyphs" stroke="#111" stroke-width="0.45" stroke-linejoin="round">2X10</text>
<text x="110.50" y="965.40" font-size="8.54" font-weight="normal" text-anchor="start" fill="#111" textLength="6.60" lengthAdjust="spacingAndGlyphs" stroke="#111" stroke-width="0.4" stroke-linejoin="round">10</text>
<text x="88.40" y="984.20" font-size="12.2" font-weight="normal" text-anchor="start" fill="#111" textLength="21.60" lengthAdjust="spacingAndGlyphs" stroke="#111" stroke-width="0.45" stroke-linejoin="round">1X10</text>
<text x="110.50" y="980.00" font-size="8.54" font-weight="normal" text-anchor="start" fill="#111" textLength="6.60" lengthAdjust="spacingAndGlyphs" stroke="#111" stroke-width="0.4" stroke-linejoin="round">11</text>
<text x="88.40" y="998.20" font-size="12.2" font-weight="normal" text-anchor="start" fill="#111" textLength="21.60" lengthAdjust="spacingAndGlyphs" stroke="#111" stroke-width="0.45" stroke-linejoin="round">6X10</text>
<text x="110.50" y="994.00" font-size="8.54" font-weight="normal" text-anchor="start" fill="#111" textLength="6.60" lengthAdjust="spacingAndGlyphs" stroke="#111" stroke-width="0.4" stroke-linejoin="round">11</text>
<text x="302.80" y="950.70" font-size="19.6" font-weight="bold" text-anchor="start" fill="#111" textLength="16.20" lengthAdjust="spacingAndGlyphs">G</text>
<line x1="355.70" y1="956.30" x2="355.70" y2="1081.50" stroke="#111" stroke-width="1.6"/>
<line x1="351.10" y1="1080.80" x2="355.70" y2="1080.80" stroke="#111" stroke-width="1.3"/>
<text x="345.00" y="1085.40" font-size="13.4" font-weight="normal" text-anchor="start" fill="#111" textLength="5.00" lengthAdjust="spacingAndGlyphs" stroke="#111" stroke-width="0.4" stroke-linejoin="round">0</text>
<line x1="351.10" y1="1039.50" x2="355.70" y2="1039.50" stroke="#111" stroke-width="1.3"/>
<text x="333.40" y="1044.10" font-size="13.4" font-weight="normal" text-anchor="start" fill="#111" textLength="16.60" lengthAdjust="spacingAndGlyphs" stroke="#111" stroke-width="0.4" stroke-linejoin="round">500</text>
<line x1="351.10" y1="998.20" x2="355.70" y2="998.20" stroke="#111" stroke-width="1.3"/>
<text x="327.80" y="1002.80" font-size="13.4" font-weight="normal" text-anchor="start" fill="#111" textLength="22.20" lengthAdjust="spacingAndGlyphs" stroke="#111" stroke-width="0.4" stroke-linejoin="round">1000</text>
<line x1="351.10" y1="956.90" x2="355.70" y2="956.90" stroke="#111" stroke-width="1.3"/>
<text x="327.80" y="961.50" font-size="13.4" font-weight="normal" text-anchor="start" fill="#111" textLength="22.20" lengthAdjust="spacingAndGlyphs" stroke="#111" stroke-width="0.4" stroke-linejoin="round">1500</text>
<text x="0" y="0" font-size="19.2" font-weight="bold" fill="#111" textLength="66.40" lengthAdjust="spacingAndGlyphs" transform="translate(320.70 1046.60) rotate(-90)">IL-6 (pg/ml)</text>
<rect x="363.70" y="1066.98" width="17.40" height="13.02" fill="#ffffff" stroke="#111" stroke-width="1.6"/>
<rect x="383.10" y="1060.98" width="19.20" height="19.82" fill="#b2b2b2"/>
<rect x="404.00" y="1058.66" width="18.70" height="22.14" fill="#222222"/>
<line x1="372.70" y1="1061.47" x2="372.70" y2="1070.89" stroke="#1a1a1a" stroke-width="1.05"/>
<line x1="367.90" y1="1061.47" x2="377.50" y2="1061.47" stroke="#1a1a1a" stroke-width="1.05"/>
<line x1="367.90" y1="1070.89" x2="377.50" y2="1070.89" stroke="#1a1a1a" stroke-width="1.05"/>
<line x1="393.00" y1="1056.19" x2="393.00" y2="1065.77" stroke="#1a1a1a" stroke-width="1.05"/>
<line x1="388.20" y1="1056.19" x2="397.80" y2="1056.19" stroke="#1a1a1a" stroke-width="1.05"/>
<line x1="388.20" y1="1065.77" x2="397.80" y2="1065.77" stroke="#1a1a1a" stroke-width="1.05"/>
<line x1="413.65" y1="1052.47" x2="413.65" y2="1064.86" stroke="#1a1a1a" stroke-width="1.05"/>
<line x1="408.85" y1="1052.47" x2="418.45" y2="1052.47" stroke="#1a1a1a" stroke-width="1.05"/>
<line x1="408.85" y1="1064.86" x2="418.45" y2="1064.86" stroke="#1a1a1a" stroke-width="1.05"/>
<rect x="437.90" y="1038.98" width="17.80" height="41.02" fill="#ffffff" stroke="#111" stroke-width="1.6"/>
<rect x="458.00" y="1018.85" width="19.50" height="61.95" fill="#b2b2b2"/>
<rect x="478.50" y="1004.81" width="18.70" height="75.99" fill="#222222"/>
<line x1="447.10" y1="1027.19" x2="447.10" y2="1049.16" stroke="#1a1a1a" stroke-width="1.05"/>
<line x1="442.30" y1="1027.19" x2="451.90" y2="1027.19" stroke="#1a1a1a" stroke-width="1.05"/>
<line x1="442.30" y1="1049.16" x2="451.90" y2="1049.16" stroke="#1a1a1a" stroke-width="1.05"/>
<line x1="468.05" y1="1006.96" x2="468.05" y2="1030.74" stroke="#1a1a1a" stroke-width="1.05"/>
<line x1="463.25" y1="1006.96" x2="472.85" y2="1006.96" stroke="#1a1a1a" stroke-width="1.05"/>
<line x1="463.25" y1="1030.74" x2="472.85" y2="1030.74" stroke="#1a1a1a" stroke-width="1.05"/>
<line x1="488.15" y1="994.65" x2="488.15" y2="1014.97" stroke="#1a1a1a" stroke-width="1.05"/>
<line x1="483.35" y1="994.65" x2="492.95" y2="994.65" stroke="#1a1a1a" stroke-width="1.05"/>
<line x1="483.35" y1="1014.97" x2="492.95" y2="1014.97" stroke="#1a1a1a" stroke-width="1.05"/>
<line x1="351.10" y1="1080.80" x2="504.60" y2="1080.80" stroke="#111" stroke-width="2.0"/>
<line x1="392.40" y1="1080.80" x2="392.40" y2="1084.40" stroke="#111" stroke-width="1.1"/>
<line x1="467.60" y1="1080.80" x2="467.60" y2="1084.40" stroke="#111" stroke-width="1.1"/>
<text x="376.70" y="1100.00" font-size="14" font-weight="normal" text-anchor="start" fill="#111" textLength="31.00" lengthAdjust="spacingAndGlyphs" stroke="#111" stroke-width="0.5" stroke-linejoin="round">ssAAV2</text>
<text x="451.80" y="1100.00" font-size="14" font-weight="normal" text-anchor="start" fill="#111" textLength="30.40" lengthAdjust="spacingAndGlyphs" stroke="#111" stroke-width="0.5" stroke-linejoin="round">scAAV2</text>
<path d="M444.90 1022.60 V995.60 H488.00" fill="none" stroke="#555" stroke-width="0.9"/>
<text x="448.40" y="991.00" font-size="11.2" font-weight="normal" text-anchor="start" fill="#3a3a3a" textLength="27.40" lengthAdjust="spacingAndGlyphs" stroke="#3a3a3a" stroke-width="0.3">p&lt;0.05</text>
<rect x="367.05" y="958.75" width="13.50" height="7.90" fill="#ffffff" stroke="#111" stroke-width="1.5"/>
<rect x="366.30" y="973.00" width="15.00" height="9.00" fill="#b2b2b2"/>
<rect x="366.30" y="987.60" width="15.00" height="9.40" fill="#222222"/>
<text x="388.30" y="967.50" font-size="12.2" font-weight="normal" text-anchor="start" fill="#111" textLength="21.80" lengthAdjust="spacingAndGlyphs" stroke="#111" stroke-width="0.45" stroke-linejoin="round">2X10</text>
<text x="410.60" y="963.30" font-size="8.54" font-weight="normal" text-anchor="start" fill="#111" textLength="7.20" lengthAdjust="spacingAndGlyphs" stroke="#111" stroke-width="0.4" stroke-linejoin="round">10</text>
<text x="388.30" y="982.00" font-size="12.2" font-weight="normal" text-anchor="start" fill="#111" textLength="21.80" lengthAdjust="spacingAndGlyphs" stroke="#111" stroke-width="0.45" stroke-linejoin="round">1X10</text>
<text x="410.60" y="977.80" font-size="8.54" font-weight="normal" text-anchor="start" fill="#111" textLength="7.20" lengthAdjust="spacingAndGlyphs" stroke="#111" stroke-width="0.4" stroke-linejoin="round">11</text>
<text x="388.30" y="997.00" font-size="12.2" font-weight="normal" text-anchor="start" fill="#111" textLength="21.80" lengthAdjust="spacingAndGlyphs" stroke="#111" stroke-width="0.45" stroke-linejoin="round">6X10</text>
<text x="410.60" y="992.80" font-size="8.54" font-weight="normal" text-anchor="start" fill="#111" textLength="7.20" lengthAdjust="spacingAndGlyphs" stroke="#111" stroke-width="0.4" stroke-linejoin="round">11</text>
</g>
</svg>
</body></html>
